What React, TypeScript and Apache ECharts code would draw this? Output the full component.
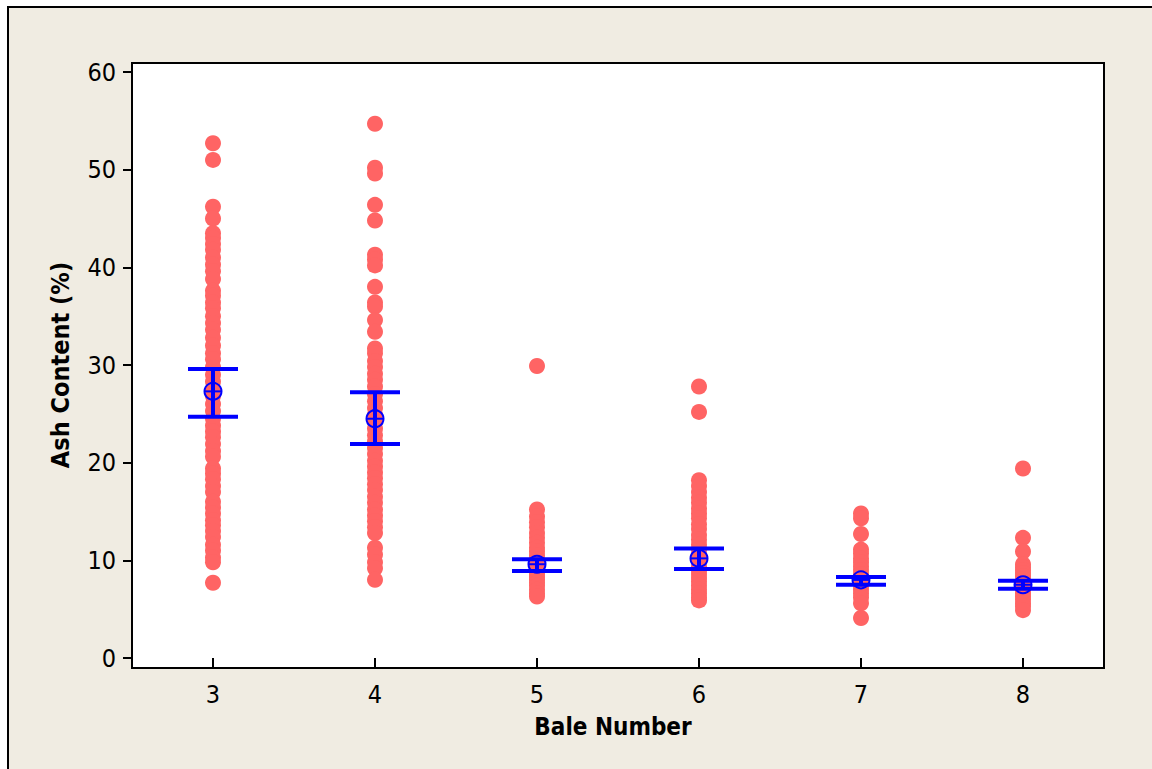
import React, { useEffect, useRef } from "react";
import * as echarts from "echarts";

const bales = ["3", "4", "5", "6", "7", "8"];

const bale3 = [52.7, 51.0, 46.2, 45.0, 43.5, 43.0, 42.4, 41.8, 41.0, 40.3, 39.6, 38.8, 37.6, 37.1, 36.4, 35.8, 35.0, 34.3, 33.6, 32.8, 32.0, 31.2, 30.6, 29.8, 29.0, 28.3, 27.5, 26.8, 26.0, 25.3, 24.5, 23.8, 23.2, 22.6, 21.9, 21.2, 20.6, 19.4, 18.9, 18.3, 17.6, 17.0, 16.0, 15.4, 14.8, 14.1, 13.6, 13.0, 12.4, 11.6, 11.0, 10.3, 9.8, 7.7];
const bale4 = [54.7, 50.2, 49.6, 46.4, 44.8, 41.3, 40.8, 40.2, 38.0, 36.4, 36.0, 34.6, 33.4, 31.7, 31.2, 30.4, 29.8, 29.1, 28.5, 27.8, 27.0, 26.3, 25.6, 24.9, 24.2, 23.5, 22.8, 22.2, 21.5, 20.9, 20.2, 19.6, 19.0, 18.4, 17.8, 17.2, 16.5, 15.9, 15.2, 14.6, 14.0, 13.4, 12.8, 11.3, 10.6, 9.8, 9.2, 8.0];
const bale5 = [29.9, 15.2, 14.5, 13.9, 13.4, 12.8, 12.3, 11.8, 11.3, 10.9, 10.5, 10.1, 9.8, 9.5, 9.2, 8.9, 8.6, 8.3, 8.0, 7.7, 7.4, 7.0, 6.6, 6.3];
const bale6 = [27.8, 25.2, 18.2, 17.6, 17.0, 16.4, 15.9, 15.3, 14.8, 14.3, 13.7, 13.2, 12.6, 12.1, 11.6, 11.1, 10.6, 10.2, 9.8, 9.4, 9.0, 8.6, 8.2, 7.8, 7.4, 7.0, 6.6, 6.2, 5.9];
const bale7 = [14.8, 14.3, 12.7, 11.1, 10.7, 10.2, 9.8, 9.4, 9.0, 8.6, 8.2, 7.8, 7.4, 7.0, 6.6, 6.2, 5.6, 4.1];
const bale8 = [19.4, 12.3, 10.9, 9.6, 9.3, 9.0, 8.7, 8.4, 8.1, 7.8, 7.5, 7.2, 6.9, 6.6, 6.3, 6.0, 5.6, 5.3, 4.9];

const means = [27.3, 24.5, 9.6, 10.2, 8.0, 7.5];
const lower = [24.7, 21.9, 8.9, 9.1, 7.5, 7.1];
const upper = [29.6, 27.2, 10.1, 11.2, 8.3, 7.9];

const yTicks = [0, 10, 20, 30, 40, 50, 60];

const FONT = "'DejaVu Sans Condensed', 'DejaVu Sans', sans-serif";

export default function App() {
  const ref = useRef<HTMLDivElement>(null);
  useEffect(() => {
    if (!ref.current) return;
    const chart = echarts.init(ref.current, undefined, { renderer: "svg" });
    const groups = [bale3, bale4, bale5, bale6, bale7, bale8];
    const points: number[][] = [];
    groups.forEach((g, i) => g.forEach((v) => points.push([i, v])));
    const bars = means.map((m, i) => [i, lower[i], upper[i], m]);
    const blue = "#0000FF";
    chart.setOption({
      animation: false,
      backgroundColor: "#FFFFFF",
      grid: { left: 132, right: 48, top: 72, bottom: 111 },
      graphic: [
        {
          type: "rect",
          z: -10,
          shape: { x: 8, y: 7, width: 1160, height: 800 },
          style: { fill: "#F0ECE2", stroke: "#000", lineWidth: 2 },
        },
        {
          type: "rect",
          z: -5,
          shape: { x: 132, y: 63, width: 972, height: 605 },
          style: { fill: "#FFFFFF", stroke: "#000", lineWidth: 2 },
        },
        {
          type: "text",
          z: 10,
          x: 613,
          y: 727,
          style: {
            text: "Bale Number",
            font: `bold 24px ${FONT}`,
            fill: "#000",
            textAlign: "center",
            textVerticalAlign: "middle",
          },
        },
        {
          type: "text",
          z: 10,
          x: 60,
          y: 365,
          rotation: Math.PI / 2,
          style: {
            text: "Ash Content (%)",
            font: `bold 25px ${FONT}`,
            fill: "#000",
            textAlign: "center",
            textVerticalAlign: "middle",
          },
        },
      ],
      xAxis: {
        type: "category",
        data: bales,
        boundaryGap: true,
        offset: 10,
        axisLine: { show: false },
        axisTick: { show: true, alignWithLabel: true, length: 9, lineStyle: { color: "#000", width: 2 } },
        axisLabel: { color: "#000", fontSize: 25, fontFamily: FONT, margin: 14 },
        splitLine: { show: false },
      },
      yAxis: {
        type: "value",
        min: yTicks[0],
        max: yTicks[yTicks.length - 1],
        interval: 10,
        axisLine: { show: false },
        axisTick: { show: true, length: 9, lineStyle: { color: "#000", width: 2 } },
        axisLabel: { color: "#000", fontSize: 25, fontFamily: FONT, margin: 16 },
        splitLine: { show: false },
      },
      series: [
        {
          type: "scatter",
          data: points,
          symbol: "circle",
          symbolSize: 16,
          itemStyle: { color: "#FF6464", opacity: 1 },
          z: 2,
        },
        {
          type: "custom",
          z: 5,
          data: bars,
          renderItem: (params: any, api: any) => {
            const i = api.value(0);
            const lo = api.coord([i, api.value(1)]);
            const hi = api.coord([i, api.value(2)]);
            const mc = api.coord([i, api.value(3)]);
            const hw = 25;
            const r = 8.5;
            return {
              type: "group",
              children: [
                { type: "line", shape: { x1: lo[0], y1: lo[1], x2: hi[0], y2: hi[1] }, style: { stroke: blue, lineWidth: 4 } },
                { type: "line", shape: { x1: lo[0] - hw, y1: lo[1], x2: lo[0] + hw, y2: lo[1] }, style: { stroke: blue, lineWidth: 4 } },
                { type: "line", shape: { x1: hi[0] - hw, y1: hi[1], x2: hi[0] + hw, y2: hi[1] }, style: { stroke: blue, lineWidth: 4 } },
                { type: "circle", shape: { cx: mc[0], cy: mc[1], r }, style: { fill: "none", stroke: blue, lineWidth: 2 } },
                { type: "line", shape: { x1: mc[0] - r, y1: mc[1], x2: mc[0] + r, y2: mc[1] }, style: { stroke: blue, lineWidth: 2 } },
              ],
            };
          },
        },
      ],
    });
    return () => chart.dispose();
  }, []);
  return <div ref={ref} style={{ position: "absolute", left: 0, top: 0, width: 1152, height: 769 }} />;
}
